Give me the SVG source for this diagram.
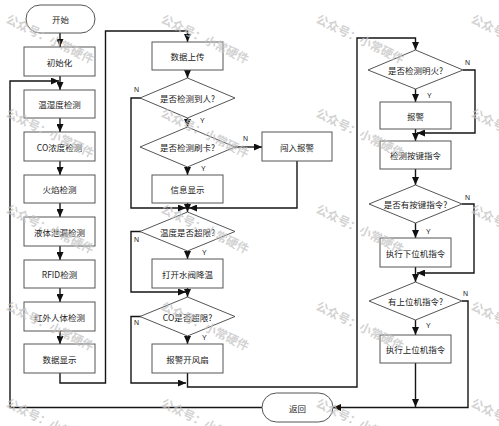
<svg xmlns="http://www.w3.org/2000/svg" width="499" height="426" viewBox="0 0 499 426">
<defs>
<marker id="ah" markerUnits="userSpaceOnUse" markerWidth="8" markerHeight="7" refX="8" refY="3.5" orient="auto">
<path d="M0,0 L8,3.5 L0,7 z" fill="#111"/>
</marker>
<style>
.box{fill:#fff;stroke:#555;stroke-width:1}
.t{font-family:"Noto Sans CJK SC","Liberation Sans",sans-serif;font-size:8.5px;fill:#222;text-anchor:middle;dominant-baseline:central}
.l{font-family:"Liberation Sans",sans-serif;font-size:7px;fill:#222}
.c{fill:none;stroke:#151515;stroke-width:1.4}
.a{marker-end:url(#ah)}
.wm{font-family:"Noto Sans CJK SC",sans-serif;font-size:12px;font-weight:bold;fill:#c4c4c4;fill-opacity:0.75}
</style>
</defs>
<rect width="499" height="426" fill="#fff"/>

<g id="connectors">
<path class="c a" d="M60,33 V47"/>
<path class="c a" d="M60,76 V90"/>
<path class="c a" d="M60,118 V132"/>
<path class="c a" d="M60,161 V175"/>
<path class="c a" d="M60,203 V217"/>
<path class="c a" d="M60,246 V260"/>
<path class="c a" d="M60,288 V302"/>
<path class="c a" d="M60,331 V344"/>
<path class="c a" d="M60,373 V383 H105.5 V31 H187.5 V42"/>
<path class="c a" d="M262,407.5 H10 V81 H59"/>

<path class="c a" d="M187.5,70 V78"/>
<path class="c a" d="M187.5,118 V127"/>
<path class="c a" d="M141,98 H131 V208 H186"/>
<path class="c a" d="M235,147 H262"/>
<path class="c a" d="M187.5,167 V175"/>
<path class="c a" d="M297,161 V208 H189"/>
<path class="c a" d="M187.5,203 V212"/>
<path class="c a" d="M141,231.5 H131 V292 H186"/>
<path class="c a" d="M187.5,251 V259"/>
<path class="c a" d="M187.5,288 V297"/>
<path class="c a" d="M141,316.5 H131 V383 H186"/>
<path class="c a" d="M187.5,336 V344"/>
<path class="c a" d="M187.5,373 V387 H357 V38 H415.5 V50"/>

<path class="c a" d="M463,70 H475 V133 H417"/>
<path class="c a" d="M415.5,89 V102"/>
<path class="c a" d="M415.5,129 V141"/>
<path class="c a" d="M415.5,169 V185"/>
<path class="c a" d="M462,204 H474 V273 H417"/>
<path class="c a" d="M415.5,223 V238"/>
<path class="c a" d="M415.5,267 V282"/>
<path class="c a" d="M462,301 H468 V407.5 H333"/>
<path class="c a" d="M415.5,320 V335"/>
<path class="c a" d="M415.5,363 V407"/>

<text class="l" x="134" y="92">N</text>
<text class="l" x="200" y="123">Y</text>
<text class="l" x="243" y="141">N</text>
<text class="l" x="201" y="171">Y</text>
<text class="l" x="134" y="242">N</text>
<text class="l" x="202" y="255">Y</text>
<text class="l" x="134" y="325">N</text>
<text class="l" x="202" y="340">Y</text>
<text class="l" x="465" y="65">N</text>
<text class="l" x="427" y="98">Y</text>
<text class="l" x="465" y="200">N</text>
<text class="l" x="426" y="234">Y</text>
<text class="l" x="463" y="296">N</text>
<text class="l" x="426" y="328">Y</text>
</g>

<g id="start"><rect class="box" x="26" y="5" width="69" height="28" rx="14"/><text class="t" x="60.5" y="19">开始</text></g>
<g id="init"><rect class="box" x="24" y="47" width="71" height="29"/><text class="t" x="59.5" y="61.5">初始化</text></g>
<g id="temp"><rect class="box" x="24" y="90" width="71" height="28"/><text class="t" x="59.5" y="104">温湿度检测</text></g>
<g id="co"><rect class="box" x="24" y="132" width="71" height="29"/><text class="t" x="59.5" y="146.5">CO浓度检测</text></g>
<g id="flame"><rect class="box" x="24" y="175" width="71" height="28"/><text class="t" x="59.5" y="189">火焰检测</text></g>
<g id="leak"><rect class="box" x="24" y="217" width="71" height="29"/><text class="t" x="59.5" y="231.5">液体泄漏检测</text></g>
<g id="rfid"><rect class="box" x="24" y="260" width="71" height="28"/><text class="t" x="59.5" y="274">RFID检测</text></g>
<g id="ir"><rect class="box" x="24" y="302" width="71" height="29"/><text class="t" x="59.5" y="316.5">红外人体检测</text></g>
<g id="disp"><rect class="box" x="24" y="344" width="71" height="29"/><text class="t" x="59.5" y="358.5">数据显示</text></g>

<g id="upload"><rect class="box" x="152" y="42" width="71" height="28"/><text class="t" x="187.5" y="56">数据上传</text></g>
<g id="d_person"><polygon class="box" points="187.5,78 235,98 187.5,118 140,98"/><text class="t" x="187.5" y="98">是否检测到人?</text></g>
<g id="d_card"><polygon class="box" points="187.5,127 235,147 187.5,167 140,147"/><text class="t" x="187.5" y="147">是否检测刷卡?</text></g>
<g id="intrude"><rect class="box" x="262" y="132" width="70" height="29"/><text class="t" x="297" y="146.5">闯入报警</text></g>
<g id="info"><rect class="box" x="152" y="175" width="71" height="28"/><text class="t" x="187.5" y="189">信息显示</text></g>
<g id="d_temp"><polygon class="box" points="187.5,212 235,231.5 187.5,251 140,231.5"/><text class="t" x="187.5" y="231.5">温度是否超限?</text></g>
<g id="valve"><rect class="box" x="152" y="259" width="71" height="29"/><text class="t" x="187.5" y="273.5">打开水阀降温</text></g>
<g id="d_co"><polygon class="box" points="187.5,297 235,316.5 187.5,336 140,316.5"/><text class="t" x="187.5" y="316.5">CO是否超限?</text></g>
<g id="fan"><rect class="box" x="152" y="344" width="71" height="29"/><text class="t" x="187.5" y="358.5">报警开风扇</text></g>

<g id="d_fire"><polygon class="box" points="415.5,50 463,70 415.5,89 368,70"/><text class="t" x="415.5" y="70">是否检测明火?</text></g>
<g id="alarm"><rect class="box" x="380" y="102" width="71" height="27"/><text class="t" x="415.5" y="115.5">报警</text></g>
<g id="keydet"><rect class="box" x="380" y="141" width="71" height="28"/><text class="t" x="415.5" y="155">检测按键指令</text></g>
<g id="d_key"><polygon class="box" points="415.5,185 462,204 415.5,223 369,204"/><text class="t" x="415.5" y="204">是否有按键指令?</text></g>
<g id="lower"><rect class="box" x="380" y="238" width="71" height="29"/><text class="t" x="415.5" y="252.5">执行下位机指令</text></g>
<g id="d_upper"><polygon class="box" points="415.5,282 462,301 415.5,320 369,301"/><text class="t" x="415.5" y="301">有上位机指令?</text></g>
<g id="upper"><rect class="box" x="380" y="335" width="71" height="28"/><text class="t" x="415.5" y="349">执行上位机指令</text></g>
<g id="ret"><rect class="box" x="262" y="393" width="71" height="29" rx="14.5"/><text class="t" x="297.5" y="407.5">返回</text></g>

<g id="watermarks">
<text class="wm" transform="translate(5,22) rotate(26)">公众号：小常硬件</text>
<text class="wm" transform="translate(160,22) rotate(26)">公众号：小常硬件</text>
<text class="wm" transform="translate(315,22) rotate(26)">公众号：小常硬件</text>
<text class="wm" transform="translate(470,22) rotate(26)">公众号：小常硬件</text>
<text class="wm" transform="translate(5,116) rotate(26)">公众号：小常硬件</text>
<text class="wm" transform="translate(160,116) rotate(26)">公众号：小常硬件</text>
<text class="wm" transform="translate(315,116) rotate(26)">公众号：小常硬件</text>
<text class="wm" transform="translate(470,116) rotate(26)">公众号：小常硬件</text>
<text class="wm" transform="translate(5,212) rotate(26)">公众号：小常硬件</text>
<text class="wm" transform="translate(160,212) rotate(26)">公众号：小常硬件</text>
<text class="wm" transform="translate(315,212) rotate(26)">公众号：小常硬件</text>
<text class="wm" transform="translate(470,212) rotate(26)">公众号：小常硬件</text>
<text class="wm" transform="translate(5,309) rotate(26)">公众号：小常硬件</text>
<text class="wm" transform="translate(160,309) rotate(26)">公众号：小常硬件</text>
<text class="wm" transform="translate(315,309) rotate(26)">公众号：小常硬件</text>
<text class="wm" transform="translate(470,309) rotate(26)">公众号：小常硬件</text>
<text class="wm" transform="translate(5,406) rotate(26)">公众号：小常硬件</text>
<text class="wm" transform="translate(160,406) rotate(26)">公众号：小常硬件</text>
<text class="wm" transform="translate(315,406) rotate(26)">公众号：小常硬件</text>
<text class="wm" transform="translate(470,406) rotate(26)">公众号：小常硬件</text>
</g>
</svg>
